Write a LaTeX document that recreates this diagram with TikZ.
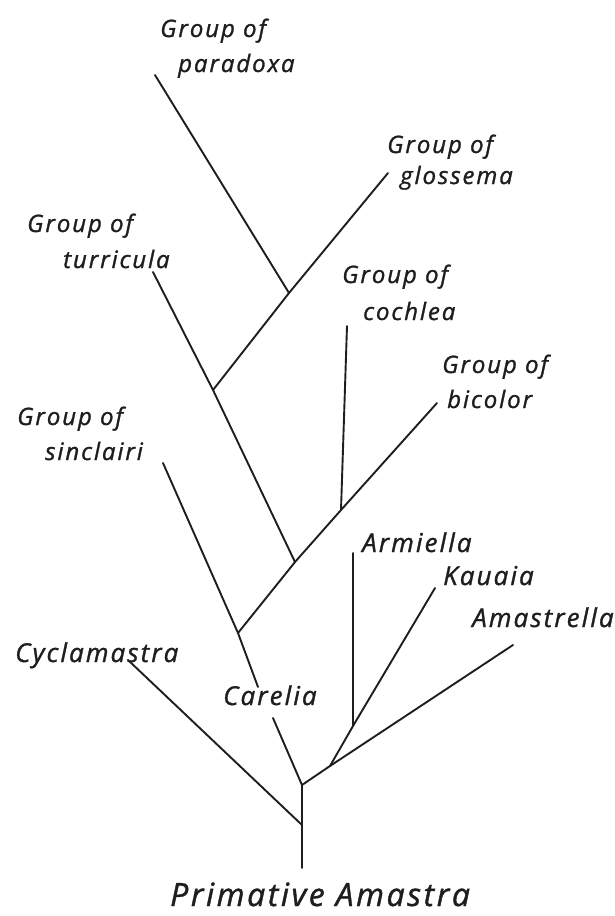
\documentclass[tikz,border=0pt]{standalone}
\usepackage{fontspec}
\usepackage{xcolor}
\usepackage{tikz}
\usetikzlibrary{positioning}
\newfontfamily\lettering{Open Sans}[LetterSpace=8,FakeBold=1.2]
\definecolor{Ink}{HTML}{1E1E1E}

\begin{document}
\begin{tikzpicture}[
  x=1pt,y=-1pt,
  branch/.style={draw=Ink,line width=1.9pt,line cap=round,line join=round},
  grp/.style={font=\lettering\itshape\fontsize{24}{30}\selectfont,text=Ink,
              anchor=base west,inner sep=0pt},
  genus/.style={font=\lettering\itshape\fontsize{26}{32}\selectfont,text=Ink,
                anchor=base west,inner sep=0pt},
  base/.style={font=\lettering\itshape\fontsize{32}{38}\selectfont,text=Ink,
               anchor=base west,inner sep=0pt}
]
\useasboundingbox (0,0) rectangle (615,916);
% labels
\node[grp] (parG)  at (160,37)  {Group of};
\node[grp] (par)   at (178,72)  {paradoxa};
\node[grp] (gloG)  at (387,153) {Group of};
\node[grp] (glo)   at (400,184) {glossema};
\node[grp] (turG)  at (27,232)  {Group of};
\node[grp] (tur)   at (63,268)  {turricula};
\node[grp] (cocG)  at (342,283) {Group of};
\node[grp] (coc)   at (363,320) {cochlea};
\node[grp] (bicG)  at (442,373) {Group of};
\node[grp] (bic)   at (447,408) {bicolor};
\node[grp] (sinG)  at (17,425)  {Group of};
\node[grp] (sin)   at (45,460)  {sinclairi};
\node[genus] (arm) at (362,552) {Armiella};
\node[genus] (kau) at (443,585) {Kauaia};
\node[genus] (ams) at (472,627) {Amastrella};
\node[genus] (cyc) at (15,662)  {Cyclamastra};
\node[genus] (car) at (223,705) {Carelia};
\node[base] (prim) at (170,906) {Primative Amastra};
% branch ends and forks
\coordinate (r0)    at (302,868);
\coordinate (r1)    at (302,825);
\coordinate (r2)    at (302,785);
\coordinate (cycE)  at (128,660);
\coordinate (carB)  at (273,718);
\coordinate (carT)  at (258,687);
\coordinate (sinE)  at (163,463);
\coordinate (jA)    at (238,633);
\coordinate (jB)    at (295,562);
\coordinate (jC)    at (341,510);
\coordinate (bicE)  at (437,403);
\coordinate (cocE)  at (347,326);
\coordinate (turE)  at (153,272);
\coordinate (jD)    at (213,390);
\coordinate (jE)    at (289,293);
\coordinate (gloE)  at (388,173);
\coordinate (parE)  at (155,75);
\coordinate (amsE)  at (513,645);
\coordinate (jF)    at (330,766);
\coordinate (kauE)  at (435,588);
\coordinate (jG)    at (353,726);
\coordinate (armE)  at (353,553);
% tree
\draw[branch] (r0) -- (r2);
\draw[branch] (cycE) -- (r1);
\draw[branch] (r2) -- (carB);
\draw[branch] (carT) -- (jA) -- (sinE);
\draw[branch] (jA) -- (jB) -- (jC) -- (bicE);
\draw[branch] (cocE) -- (jC);
\draw[branch] (jB) -- (jD) -- (turE);
\draw[branch] (jD) -- (jE) -- (gloE);
\draw[branch] (parE) -- (jE);
\draw[branch] (r2) -- (jF) -- (amsE);
\draw[branch] (jF) -- (jG) -- (kauE);
\draw[branch] (jG) -- (armE);
\end{tikzpicture}
\end{document}
